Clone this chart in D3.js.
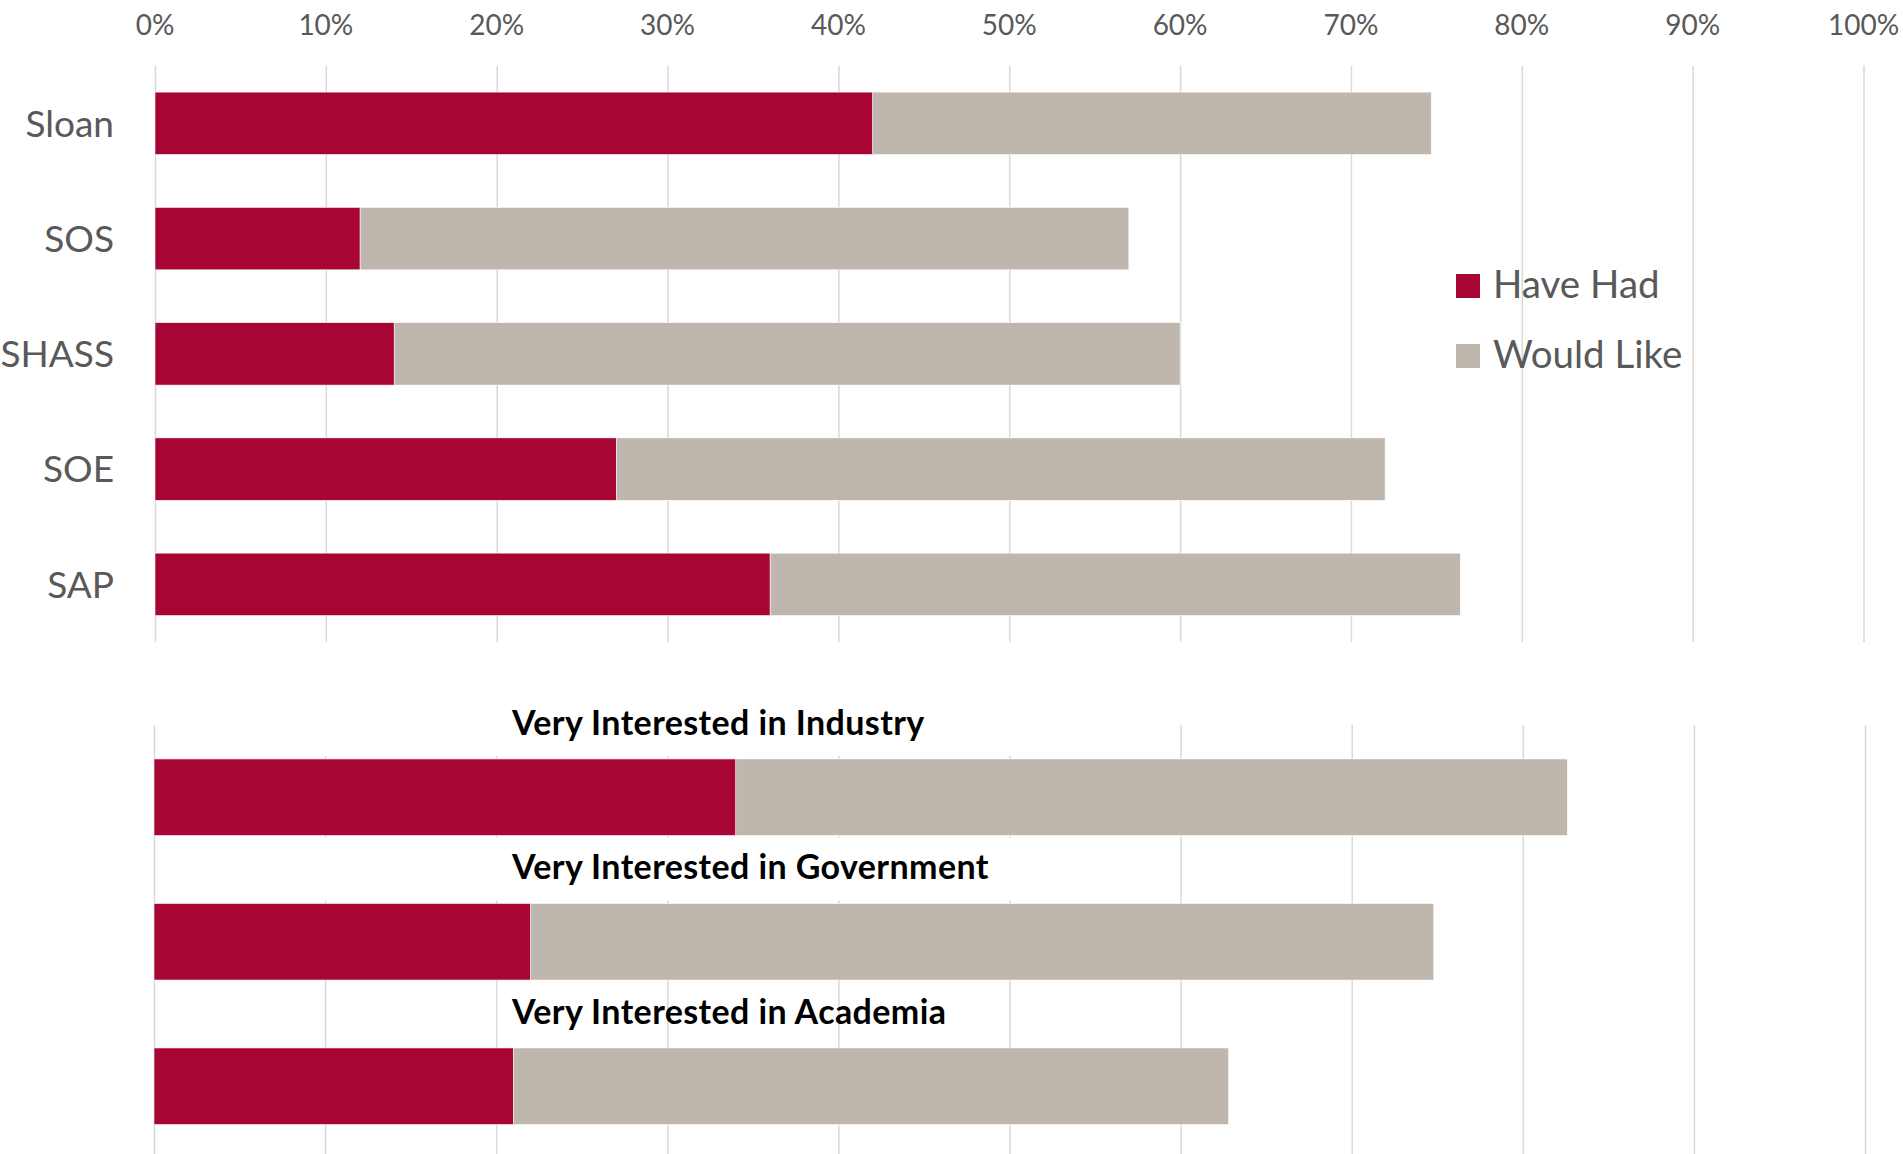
<!DOCTYPE html>
<html>
<head>
<meta charset="utf-8">
<script src="https://cdn.jsdelivr.net/npm/d3@7"></script>
<style>
  html, body { margin: 0; padding: 0; background: #fff; }
  #chart { width: 1903px; height: 1154px; }
  text { font-family: Lato, "Open Sans", sans-serif; }
</style>
</head>
<body>
<div id="chart"></div>
<script>
////////////////////////////////////////////////////////////////////
////////////////////////////  Data  ////////////////////////////////
const schools = ["Sloan", "SOS", "SHASS", "SOE", "SAP"];
const schoolHaveHad = [0.42, 0.12, 0.14, 0.27, 0.36];
const schoolWouldLike = [0.747, 0.57, 0.60, 0.72, 0.764]; // bar end (stacked total)

const interests = [
  "Very Interested in Industry",
  "Very Interested in Government",
  "Very Interested in Academia",
];
const interestHaveHad = [0.34, 0.22, 0.21];
const interestWouldLike = [0.826, 0.748, 0.628];

const seriesNames = ["Have Had", "Would Like"];
const xTicks = [0, 0.1, 0.2, 0.3, 0.4, 0.5, 0.6, 0.7, 0.8, 0.9, 1.0];

////////////////////////////////////////////////////////////////////
////////////////////////////  Init  ////////////////////////////////
const width = 1903;
const height = 1154;
const red = "#a70533";
const grey = "#bfb6ad";
const gridColor = "#d9d9d9";
const textColor = "#595959";
const formatPct = d3.format(".0%");

const svg = d3
  .select("#chart")
  .append("svg")
  .attr("width", width)
  .attr("height", height);

// scales
const xTop = d3.scaleLinear().domain([0, 1]).range([155, 1863.5]);
const xBottom = d3.scaleLinear().domain([0, 1]).range([154, 1865]);

const yTop = d3
  .scaleBand()
  .domain(schools)
  .range([65.7, 642])
  .paddingInner(0.458)
  .paddingOuter(0.229);

const yBottom = d3
  .scaleBand()
  .domain(interests)
  .range([725, 1158.5])
  .paddingInner(0.47)
  .paddingOuter(0.235);

////////////////////////////////////////////////////////////////////
////////////////////////////  Top chart  ///////////////////////////
const gTop = svg.append("g");

// grid
gTop
  .append("g")
  .attr("transform", `translate(0,${yTop.range()[1]})`)
  .call(
    d3
      .axisBottom(xTop)
      .tickValues(xTicks)
      .tickSize(-(yTop.range()[1] - yTop.range()[0]))
      .tickFormat("")
  )
  .call((g) => g.select(".domain").remove())
  .call((g) => g.selectAll("line").attr("stroke", gridColor).attr("stroke-width", 1.5));

// x tick labels along the top
gTop
  .append("g")
  .selectAll("text")
  .data(xTicks)
  .join("text")
  .attr("x", (d) => xTop(d))
  .attr("y", 35)
  .attr("text-anchor", "middle")
  .attr("font-size", 28)
  .attr("fill", textColor)
  .text((d) => formatPct(d));

// y labels
gTop
  .append("g")
  .attr("transform", `translate(${xTop(0)},0)`)
  .call(d3.axisLeft(yTop).tickSize(0).tickPadding(41))
  .call((g) => g.select(".domain").remove())
  .call((g) =>
    g
      .selectAll("text")
      .attr("font-size", 37)
      .attr("font-family", "Lato, 'Open Sans', sans-serif")
      .attr("fill", textColor)
      .attr("dy", "0.36em")
  );

// bars
const topRows = gTop
  .append("g")
  .selectAll("g")
  .data(schools)
  .join("g");

topRows
  .append("rect")
  .attr("x", (d, i) => xTop(schoolHaveHad[i]))
  .attr("y", (d) => yTop(d))
  .attr("width", (d, i) => xTop(schoolWouldLike[i]) - xTop(schoolHaveHad[i]))
  .attr("height", yTop.bandwidth())
  .attr("fill", grey)
  .attr("stroke", "#fff")
  .attr("stroke-width", 0.6);

topRows
  .append("rect")
  .attr("x", xTop(0))
  .attr("y", (d) => yTop(d))
  .attr("width", (d, i) => xTop(schoolHaveHad[i]) - xTop(0))
  .attr("height", yTop.bandwidth())
  .attr("fill", red)
  .attr("stroke", "#fff")
  .attr("stroke-width", 0.6);

// legend
const legend = svg
  .append("g")
  .attr("transform", "translate(1456,274)")
  .selectAll("g")
  .data(seriesNames)
  .join("g")
  .attr("transform", (d, i) => `translate(0,${i * 70})`);

legend
  .append("rect")
  .attr("width", 24)
  .attr("height", 24)
  .attr("fill", (d, i) => (i === 0 ? red : grey));

legend
  .append("text")
  .attr("x", 37)
  .attr("y", 24)
  .attr("font-size", 38.5)
  .attr("fill", textColor)
  .text((d) => d);

////////////////////////////////////////////////////////////////////
////////////////////////////  Bottom chart  ////////////////////////
const gBottom = svg.append("g");

gBottom
  .append("g")
  .attr("transform", `translate(0,${yBottom.range()[1]})`)
  .call(
    d3
      .axisBottom(xBottom)
      .tickValues(xTicks)
      .tickSize(-(yBottom.range()[1] - yBottom.range()[0]))
      .tickFormat("")
  )
  .call((g) => g.select(".domain").remove())
  .call((g) => g.selectAll("line").attr("stroke", gridColor).attr("stroke-width", 1.5));

// white text boxes behind the first two titles (they hide part of the grid)
const step = yBottom.step();
const gap = step - yBottom.bandwidth();
gBottom
  .append("g")
  .selectAll("rect")
  .data(interests.slice(0, 2))
  .join("rect")
  .attr("x", xBottom(0) + 3)
  .attr("width", xBottom(0.55) - xBottom(0) - 3)
  .attr("y", (d, i) => (i === 0 ? yBottom.range()[0] : yBottom(d) - gap + 2))
  .attr("height", (d, i) => (i === 0 ? yBottom(d) - yBottom.range()[0] - 3 : gap - 5))
  .attr("fill", "#fff");

const bottomRows = gBottom
  .append("g")
  .selectAll("g")
  .data(interests)
  .join("g");

bottomRows
  .append("rect")
  .attr("x", (d, i) => xBottom(interestHaveHad[i]))
  .attr("y", (d) => yBottom(d))
  .attr("width", (d, i) => xBottom(interestWouldLike[i]) - xBottom(interestHaveHad[i]))
  .attr("height", yBottom.bandwidth())
  .attr("fill", grey)
  .attr("stroke", "#fff")
  .attr("stroke-width", 0.6);

bottomRows
  .append("rect")
  .attr("x", xBottom(0))
  .attr("y", (d) => yBottom(d))
  .attr("width", (d, i) => xBottom(interestHaveHad[i]) - xBottom(0))
  .attr("height", yBottom.bandwidth())
  .attr("fill", red)
  .attr("stroke", "#fff")
  .attr("stroke-width", 0.6);

// titles above each bar
bottomRows
  .append("text")
  .attr("x", 512)
  .attr("y", (d) => yBottom(d) - 24)
  .attr("font-size", 34)
  .attr("font-weight", "bold")
  .attr("letter-spacing", 0.4)
  .attr("fill", "#000")
  .text((d) => d);
</script>
</body>
</html>
